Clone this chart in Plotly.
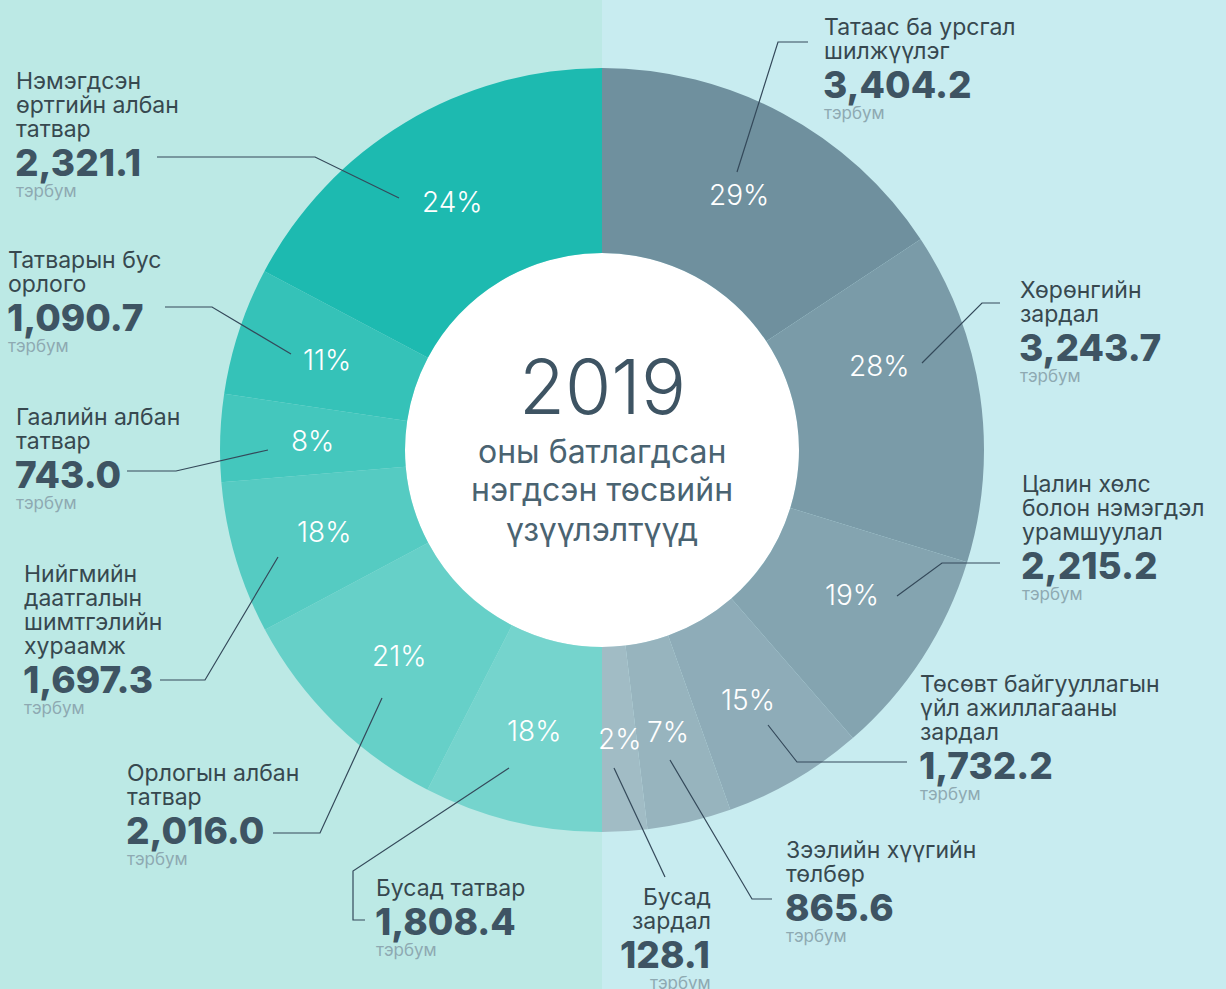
import math
import plotly.graph_objects as go

W, H = 1226, 989
CX, CY = 602, 450          # ring centre in px (from top-left)
R_OUT, R_IN = 382, 197

# revenue, left half, top -> bottom
rev_names = [
    ["Нэмэгдсэн", "өртгийн албан", "татвар"],
    ["Татварын бус", "орлого"],
    ["Гаалийн албан", "татвар"],
    ["Нийгмийн", "даатгалын", "шимтгэлийн", "хураамж"],
    ["Орлогын албан", "татвар"],
    ["Бусад татвар"],
]
rev_amount = [2321.1, 1090.7, 743.0, 1697.3, 2016.0, 1808.4]
rev_pct = [24, 11, 8, 18, 21, 18]
# share of the half ring as it is drawn (the ring is not drawn to scale)
rev_arc = [34.5, 10.8, 7.4, 12.9, 19.3, 15.1]

# spending, right half, top -> bottom
exp_names = [
    ["Татаас ба урсгал", "шилжүүлэг"],
    ["Хөрөнгийн", "зардал"],
    ["Цалин хөлс", "болон нэмэгдэл", "урамшуулал"],
    ["Төсөвт байгууллагын", "үйл ажиллагааны", "зардал"],
    ["Зээлийн хүүгийн", "төлбөр"],
    ["Бусад", "зардал"],
]
exp_amount = [3404.2, 3243.7, 2215.2, 1732.2, 865.6, 128.1]
exp_pct = [29, 28, 19, 15, 7, 2]
exp_arc = [31.4, 28.1, 17.7, 11.9, 7.1, 3.8]

unit = "тэрбум"
title_year = "2019"
title_lines = ["оны батлагдсан", "нэгдсэн төсвийн", "үзүүлэлтүүд"]

rev_colors = ["#1dbab0", "#35c2b8", "#44c7bd", "#55cbc2", "#66d0c8", "#75d4cd"]
exp_colors = ["#6f909e", "#7a9ba8", "#84a4b0", "#8eacb8", "#97b4be", "#a1bcc5"]

# where along each slice the % text sits (0.5 = middle)
rev_text_at = [0.5, 0.5, 0.5, 0.5, 0.5, 0.5]
exp_text_at = [0.5, 0.33, 0.41, 0.5, 0.5, 0.5]

FONT = "Inter, Roboto, sans-serif"
C_TEXT = "#37484f"
C_NUM = "#3e5463"
C_UNIT = "#8ea9b2"
C_LINE = "#34495a"


def px(x):
    return x / W


def py(y):
    return 1 - y / H


fig = go.Figure()

# one ring: spending clockwise down the right side, then revenue back up the left
fig.add_trace(
    go.Pie(
        values=exp_arc + rev_arc[::-1],
        marker=dict(colors=exp_colors + rev_colors[::-1], line=dict(width=0)),
        direction="clockwise",
        rotation=0,
        sort=False,
        hole=R_IN / R_OUT,
        textinfo="none",
        hoverinfo="skip",
        showlegend=False,
        domain=dict(
            x=[px(CX - R_OUT), px(CX + R_OUT)],
            y=[py(CY + R_OUT), py(CY - R_OUT)],
        ),
    )
)

annos = []


def note(x, y, text, size, color, anchor="center", weight=None):
    f = dict(family=FONT, size=size, color=color)
    if weight:
        f["weight"] = weight
    annos.append(dict(x=px(x), y=py(y), text=text, xanchor=anchor, yanchor="middle",
                      showarrow=False, font=f, borderpad=0))


# percent labels inside the slices
r_mid = (R_OUT + R_IN) / 2
for arcs, pcts, at, side in [(exp_arc, exp_pct, exp_text_at, 1), (rev_arc, rev_pct, rev_text_at, -1)]:
    cum = 0
    for a, p, f in zip(arcs, pcts, at):
        t = math.radians(180 * (cum + a * f) / 100)
        cum += a
        note(CX + side * r_mid * math.sin(t), CY - r_mid * math.cos(t), f"{p}%", 28, "white", weight=300)

# label blocks: left x (or right x), centre y of first line, anchor
rev_label_pos = [(15, 81, "left"), (7, 260, "left"), (15, 417, "left"), (23, 574, "left"), (126, 773, "left"), (375, 888, "left")]
exp_label_pos = [(823, 27, "left"), (1019, 290, "left"), (1021, 484, "left"), (919, 684, "left"), (785, 850, "left"), (712, 897, "right")]

for names, amounts, pos in [(rev_names, rev_amount, rev_label_pos), (exp_names, exp_amount, exp_label_pos)]:
    for lines, v, (x, y0, anchor) in zip(names, amounts, pos):
        y = y0 + 24 * (len(lines) - 1)
        for i, ln in enumerate(lines):
            note(x, y0 + 24 * i, ln, 23, C_TEXT, anchor)
        note(x - 1, y + 33, f"{v:,.1f}", 37, C_NUM, anchor, weight=800)
        note(x, y + 62, unit, 17, C_UNIT, anchor)

# centre title
note(CX, 386, title_year, 75, C_NUM, weight=300)
for i, ln in enumerate(title_lines):
    note(CX, 451 + 39 * i, ln, 32, "#4a6371")

# leader lines (px)
leaders = [
    [(157, 157), (315, 157), (399, 198)],
    [(165, 307), (212, 307), (291, 354)],
    [(127, 471), (176, 471), (268, 450)],
    [(160, 680), (205, 680), (278, 557)],
    [(273, 833), (320, 833), (382, 698)],
    [(365, 920), (353, 920), (353, 871), (509, 768)],
    [(808, 42), (778, 42), (737, 172)],
    [(1000, 303), (982, 303), (922, 363)],
    [(1000, 563), (942, 563), (897, 596)],
    [(907, 762), (797, 762), (768, 725)],
    [(772, 899), (752, 899), (670, 760)],
    [(665, 877), (614, 768)],
]

shapes = [
    dict(type="rect", xref="paper", yref="paper", x0=0, x1=px(CX), y0=0, y1=1,
         fillcolor="#bce9e5", line=dict(width=0), layer="below"),
    dict(type="rect", xref="paper", yref="paper", x0=px(CX), x1=1, y0=0, y1=1,
         fillcolor="#c8ecf0", line=dict(width=0), layer="below"),
    dict(type="circle", xref="paper", yref="paper",
         x0=px(CX - R_IN), x1=px(CX + R_IN), y0=py(CY + R_IN), y1=py(CY - R_IN),
         fillcolor="white", line=dict(width=0), layer="below"),
]
for pts in leaders:
    path = "M " + " L ".join(f"{px(x)},{py(y)}" for x, y in pts)
    shapes.append(dict(type="path", xref="paper", yref="paper", path=path,
                       line=dict(color=C_LINE, width=1.2)))

fig.update_layout(
    width=W,
    height=H,
    margin=dict(l=0, r=0, t=0, b=0),
    paper_bgcolor="#c8ecf0",
    plot_bgcolor="#c8ecf0",
    annotations=annos,
    shapes=shapes,
)

fig.write_html("out.html", config={"displayModeBar": False},
               post_script="document.body.style.margin='0';")
